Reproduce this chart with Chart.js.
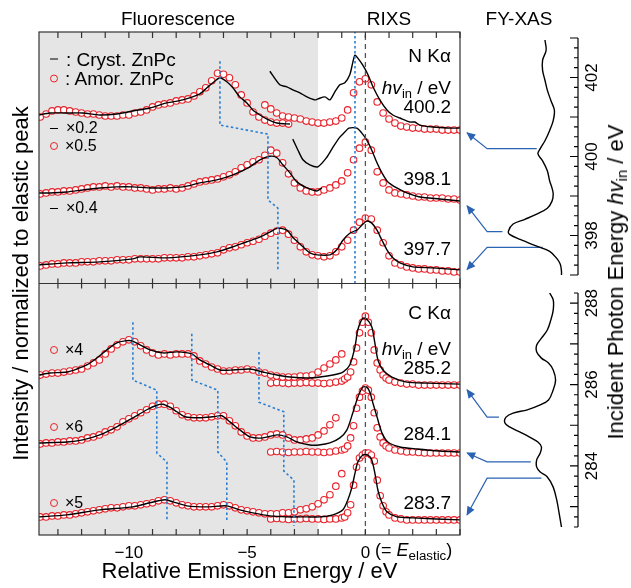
<!DOCTYPE html>
<html lang="en">
<head>
<meta charset="UTF-8">
<title>ZnPc RIXS / FY-XAS</title>
<script src="https://cdn.jsdelivr.net/npm/chart.js"></script>
<style>
  body { margin: 0; background: #fff; overflow: hidden; }
  #wrap { position: relative; width: 631px; height: 588px; font-family: "Liberation Sans", Arial, sans-serif; color: #000; }
  canvas { position: absolute; left: 0; top: 0; }
  .t { position: absolute; white-space: nowrap; line-height: 1; }
  .c { transform: translate(-50%, -50%); }
  .r { transform: translateY(-50%); text-align: right; }
  .lg { transform: translateY(-50%); display: flex; align-items: center; }
  .dash { display: inline-block; width: 8px; border-top: 1.6px solid #000; margin-right: 8px; }
  .circ { display: inline-block; width: 6px; height: 6px; border: 1.3px solid #e8232b; border-radius: 50%; margin-right: 7px; }
  .sub { font-size: .68em; position: relative; top: .3em; }
</style>
</head>
<body>
<div id="wrap">
  <canvas id="main" width="631" height="588"></canvas>
  <canvas id="fyN" width="631" height="588"></canvas>
  <canvas id="fyC" width="631" height="588"></canvas>

  <div class="t c" style="left:178px;top:18px;font-size:19px">Fluorescence</div>
  <div class="t c" style="left:389px;top:18px;font-size:19px">RIXS</div>
  <div class="t c" style="left:519px;top:18px;font-size:19px">FY-XAS</div>

  <div class="t lg" style="left:50px;top:59px;font-size:19px"><span class="dash"></span>: Cryst. ZnPc</div>
  <div class="t lg" style="left:50px;top:78px;font-size:19px"><span class="circ"></span>: Amor. ZnPc</div>
  <div class="t lg" style="left:50px;top:128px;font-size:16px"><span class="dash"></span>×0.2</div>
  <div class="t lg" style="left:50px;top:146px;font-size:16px"><span class="circ"></span>×0.5</div>
  <div class="t lg" style="left:50px;top:208px;font-size:16px"><span class="dash"></span>×0.4</div>
  <div class="t lg" style="left:50px;top:350px;font-size:16px"><span class="circ"></span>×4</div>
  <div class="t lg" style="left:50px;top:427px;font-size:16px"><span class="circ"></span>×6</div>
  <div class="t lg" style="left:50px;top:503px;font-size:16px"><span class="circ"></span>×5</div>

  <div class="t r" style="right:180px;top:55px;font-size:19px">N Kα</div>
  <div class="t r" style="right:180px;top:87px;font-size:19px"><i>hv</i><span class="sub">in</span> / eV</div>
  <div class="t r" style="right:180px;top:106px;font-size:19px">400.2</div>
  <div class="t r" style="right:180px;top:178px;font-size:19px">398.1</div>
  <div class="t r" style="right:180px;top:248px;font-size:19px">397.7</div>
  <div class="t r" style="right:180px;top:312px;font-size:19px">C Kα</div>
  <div class="t r" style="right:180px;top:348px;font-size:19px"><i>hv</i><span class="sub">in</span> / eV</div>
  <div class="t r" style="right:180px;top:367px;font-size:19px">285.2</div>
  <div class="t r" style="right:180px;top:433px;font-size:19px">284.1</div>
  <div class="t r" style="right:180px;top:502px;font-size:19px">283.7</div>

  <div class="t" style="left:375px;top:550px;font-size:18px;transform:translateY(-50%)">(= <i>E</i><span class="sub" style="font-size:.74em">elastic</span>)</div>
  <div class="t" style="left:616px;top:282px;font-size:22px;transform:translate(-50%,-50%) rotate(-90deg)">Incident Photon Energy <i>hv</i><span class="sub">in</span> / eV</div>
</div>

<script>
const FONT = '"Liberation Sans", Arial, sans-serif';

// relative emission energy axis (eV)
const xMin = -13.8, xMax = 4.0;
const fluorEnd = -2.0;          // end of the shaded fluorescence region
const xLabelTicks = [-10, -5, 0];

// common energy grid for the open circles (eV)
const nGrid = [
  -13.75, -13.5, -13.25, -13, -12.75, -12.5, -12.25, -12,
  -11.75, -11.5, -11.25, -11, -10.75, -10.5, -10.25, -10,
  -9.75, -9.5, -9.25, -9, -8.75, -8.5, -8.25, -8,
  -7.75, -7.5, -7.25, -7, -6.75, -6.5, -6.25, -6,
  -5.75, -5.5, -5.25, -5, -4.75, -4.5, -4.25, -4,
  -3.75, -3.5, -3.25, -3, -2.75, -2.5, -2.25, -2,
  -1.75, -1.5, -1.25, -1, -0.75, -0.5, -0.25, 0,
  0.25, 0.5, 0.75, 1, 1.25, 1.5, 1.75, 2,
  2.25, 2.5, 2.75, 3, 3.25, 3.5, 3.75, 4
];
const nFluorGrid = nGrid.slice(0, 43);   // -13.75 .. -3.25
const nRixsGrid = nGrid.slice(38);       // -4.25 .. 4
const cFluorGrid = nGrid.slice(0, 52);   // -13.75 .. -1.0
const cRixsGrid = [
  -4, -3.75, -3.5, -3.25, -3, -2.75, -2.5, -2.25, -2, -1.75, -1.5, -1.25,
  -1, -0.875, -0.75, -0.625, -0.5, -0.375, -0.25, -0.125, 0,
  0.125, 0.25, 0.375, 0.5, 0.625, 0.75, 0.875, 1,
  1.25, 1.5, 1.75, 2, 2.25, 2.5, 2.75, 3, 3.25, 3.5, 3.75, 4
];

// ---- N K-alpha, hv_in = 400.2 eV ----
const n400CrystFluorE = [-13.8, -13.34, -12.62, -11.95, -11.23, -10.51, -9.83, -9.11, -8.39, -7.72, -7.0, -6.7, -6.45, -6.15, -5.86, -5.6, -5.31, -5.01, -4.76, -4.46, -4.16, -3.74, -3.19];
const n400CrystFluor = [8.35, 8.39, 8.39, 8.39, 8.35, 8.37, 8.43, 8.49, 8.59, 8.65, 8.77, 8.89, 8.99, 9.09, 9.01, 8.89, 8.71, 8.59, 8.45, 8.35, 8.27, 8.19, 8.17];
const n400CrystRixsE = [-4.04, -3.62, -3.32, -3.07, -2.77, -2.47, -2.14, -2.01, -1.71, -1.5, -1.29, -1.08, -0.87, -0.66, -0.53, -0.44, -0.32, -0.11, 0.11, 0.32, 0.61, 0.91, 1.16, 1.46, 1.88, 2.09, 2.3, 2.85, 3.45, 4.0];
const n400CrystRixs = [9.22, 8.95, 8.91, 8.85, 8.79, 8.71, 8.65, 8.67, 8.71, 8.65, 8.81, 8.95, 8.99, 9.15, 9.4, 9.54, 9.48, 9.34, 9.15, 8.91, 8.65, 8.45, 8.35, 8.29, 8.21, 8.21, 8.15, 8.11, 8.09, 8.09];
const n400AmorFluor = [
  8.31, 8.37, 8.43, 8.45, 8.45, 8.43, 8.41, 8.39,
  8.37, 8.37, 8.35, 8.33, 8.33, 8.33, 8.35, 8.35,
  8.39, 8.41, 8.45, 8.51, 8.55, 8.57, 8.59, 8.63,
  8.65, 8.67, 8.73, 8.81, 8.89, 9.03, 9.18, 9.16,
  9.09, 8.95, 8.75, 8.59, 8.41, 8.31, 8.25, 8.21,
  8.19, 8.19, 8.17
];
const n400AmorRixs = [
  8.55, 8.47,
  8.39, 8.33, 8.31, 8.29, 8.27, 8.23, 8.21, 8.19,
  8.19, 8.21, 8.23, 8.29, 8.45, 8.79, 9.01, 9.07,
  8.95, 8.61, 8.39, 8.27, 8.19, 8.13, 8.11, 8.09,
  8.09, 8.07, 8.07, 8.07, 8.05, 8.05, 8.05, 8.05
];

// ---- N K-alpha, hv_in = 398.1 eV ----
const n398CrystFluorE = [-13.8, -13.34, -12.62, -11.95, -11.23, -10.51, -9.83, -9.11, -8.39, -7.72, -7.0, -6.28, -5.6, -4.88, -4.46, -4.04, -3.74, -3.49, -3.19, -2.9, -2.47, -2.05, -1.84];
const n398CrystFluor = [6.8, 6.8, 6.82, 6.86, 6.9, 6.92, 6.92, 6.9, 6.9, 6.92, 7.0, 7.06, 7.16, 7.32, 7.46, 7.53, 7.5, 7.36, 7.2, 7.02, 6.9, 6.84, 6.9];
const n398CrystRixsE = [-3.07, -2.85, -2.64, -2.35, -2.01, -1.63, -1.37, -1.08, -0.87, -0.7, -0.36, -0.15, 0.06, 0.27, 0.49, 0.7, 0.95, 1.33, 1.75, 2.3, 3.15, 4.0];
const n398CrystRixs = [7.87, 7.65, 7.46, 7.36, 7.32, 7.51, 7.71, 7.91, 8.01, 8.09, 8.09, 7.99, 7.85, 7.65, 7.4, 7.2, 7.02, 6.9, 6.8, 6.72, 6.68, 6.64];
const n398Amor = [
  6.78, 6.8, 6.82, 6.82, 6.84, 6.84, 6.86, 6.88,
  6.9, 6.92, 6.92, 6.94, 6.92, 6.94, 6.92, 6.92,
  6.9, 6.9, 6.88, 6.86, 6.88, 6.88, 6.9, 6.88,
  6.9, 6.94, 6.98, 7.02, 7.04, 7.06, 7.08, 7.12,
  7.16, 7.22, 7.3, 7.36, 7.42, 7.46, 7.55, 7.65,
  7.59, 7.4, 7.18, 7.0, 6.9, 6.84, 6.82, 6.82,
  6.86, 6.9, 6.96, 7.04, 7.2, 7.46, 7.69, 7.81,
  7.65, 7.22, 7.0, 6.86, 6.8, 6.78, 6.76, 6.74,
  6.72, 6.72, 6.7, 6.7, 6.7, 6.68, 6.68, 6.66
];

// ---- N K-alpha, hv_in = 397.7 eV ----
const n397CrystE = [-13.8, -12.62, -11.23, -9.83, -9.53, -8.39, -7.0, -6.28, -5.6, -5.01, -4.46, -4.04, -3.7, -3.32, -3.07, -2.64, -2.35, -2.05, -1.5, -1.21, -0.95, -0.66, -0.36, -0.15, 0.06, 0.27, 0.49, 0.7, 0.91, 1.16, 1.46, 2.01, 2.85, 4.0];
const n397Cryst = [5.37, 5.41, 5.43, 5.49, 5.53, 5.51, 5.57, 5.63, 5.73, 5.83, 5.92, 6.02, 6.1, 6.06, 5.92, 5.73, 5.61, 5.57, 5.57, 5.67, 5.86, 6.0, 6.06, 6.16, 6.24, 6.2, 6.06, 5.86, 5.67, 5.51, 5.41, 5.33, 5.31, 5.27];
const n397Amor = [
  5.35, 5.37, 5.39, 5.39, 5.41, 5.41, 5.41, 5.43,
  5.43, 5.43, 5.45, 5.45, 5.45, 5.47, 5.47, 5.47,
  5.49, 5.49, 5.49, 5.49, 5.49, 5.51, 5.51, 5.51,
  5.51, 5.53, 5.53, 5.55, 5.57, 5.59, 5.61, 5.67,
  5.71, 5.73, 5.77, 5.81, 5.84, 5.88, 5.94, 6.0,
  6.04, 6.06, 5.98, 5.86, 5.73, 5.63, 5.57, 5.55,
  5.53, 5.55, 5.63, 5.73, 5.86, 6.06, 6.22, 6.3,
  6.28, 6.06, 5.81, 5.55, 5.41, 5.37, 5.33, 5.31,
  5.29, 5.29, 5.27, 5.27, 5.25, 5.25, 5.23, 5.23
];

// ---- C K-alpha, hv_in = 285.2 eV ----
const c285CrystE = [-13.8, -13.34, -12.62, -12.2, -11.78, -11.35, -10.93, -10.51, -10.17, -9.87, -9.53, -9.11, -8.56, -7.97, -7.34, -7.0, -6.58, -6.15, -5.6, -4.88, -4.33, -3.74, -3.19, -2.47, -1.92, -1.37, -0.95, -0.66, -0.44, -0.32, -0.11, 0.06, 0.27, 0.4, 0.53, 0.74, 1.12, 1.75, 2.6, 4.0];
const c285Cryst = [3.18, 3.22, 3.24, 3.3, 3.38, 3.52, 3.68, 3.82, 3.86, 3.86, 3.78, 3.68, 3.62, 3.64, 3.6, 3.48, 3.38, 3.28, 3.28, 3.3, 3.24, 3.18, 3.14, 3.12, 3.14, 3.18, 3.24, 3.38, 3.74, 4.08, 4.31, 4.29, 4.14, 3.82, 3.48, 3.28, 3.14, 3.04, 3.02, 3.0];
const c285AmorFluor = [
  3.18, 3.2, 3.22, 3.22, 3.24, 3.26, 3.28, 3.3,
  3.36, 3.42, 3.48, 3.6, 3.7, 3.78, 3.84, 3.88,
  3.84, 3.76, 3.68, 3.62, 3.58, 3.6, 3.58, 3.6,
  3.6, 3.6, 3.56, 3.46, 3.4, 3.34, 3.3, 3.26,
  3.26, 3.28, 3.28, 3.3, 3.28, 3.24, 3.22, 3.18,
  3.16, 3.14, 3.14, 3.14, 3.16, 3.16, 3.18, 3.24,
  3.32, 3.4, 3.48, 3.6
];
const c285AmorRixs = [
  3.02, 3.03, 3.02, 3.01, 3.02, 3.02, 3.03, 3.02, 3.02, 3.01, 3.02, 3.04,
  3.06, 3.1, 3.14, 3.24, 3.44, 3.72, 4.02, 4.23, 4.35,
  4.23, 4.02, 3.68, 3.42, 3.28, 3.18, 3.12, 3.08,
  3.04, 3.02, 3.0, 3.0, 2.98, 2.98, 2.98, 2.98, 2.98, 2.98, 2.98, 2.98
];

// ---- C K-alpha, hv_in = 284.1 eV ----
const c284CrystE = [-13.8, -12.62, -11.95, -11.23, -10.51, -9.83, -9.24, -8.82, -8.56, -8.27, -7.97, -7.63, -7.0, -6.45, -6.07, -5.73, -5.31, -4.88, -4.33, -3.74, -3.32, -2.9, -2.35, -1.97, -1.5, -1.08, -0.78, -0.53, -0.32, -0.11, 0.06, 0.19, 0.32, 0.49, 0.7, 0.95, 1.46, 2.18, 3.15, 4.0];
const c284Cryst = [1.83, 1.85, 1.89, 1.99, 2.15, 2.33, 2.49, 2.58, 2.6, 2.54, 2.45, 2.35, 2.33, 2.35, 2.37, 2.25, 2.09, 1.95, 1.93, 1.99, 1.95, 1.85, 1.79, 1.79, 1.83, 1.93, 2.09, 2.43, 2.74, 2.94, 2.94, 2.84, 2.62, 2.35, 2.03, 1.85, 1.75, 1.71, 1.67, 1.65];
const c284AmorFluor = [
  1.81, 1.83, 1.83, 1.85, 1.85, 1.87, 1.87, 1.89,
  1.93, 1.95, 1.99, 2.05, 2.09, 2.15, 2.25, 2.31,
  2.37, 2.43, 2.49, 2.56, 2.6, 2.6, 2.56, 2.47,
  2.39, 2.35, 2.33, 2.33, 2.33, 2.35, 2.37, 2.37,
  2.27, 2.17, 2.05, 1.97, 1.93, 1.93, 1.95, 1.99,
  2.01, 1.99, 1.93, 1.89, 1.89, 1.91, 1.93, 1.99,
  2.07, 2.19, 2.33, null
];
const c284AmorRixs = [
  1.65, 1.66, 1.65, 1.64, 1.65, 1.65, 1.66, 1.65, 1.65, 1.64, 1.65, 1.67,
  1.69, 1.71, 1.77, 1.93, 2.17, 2.52, 2.74, 2.86, 2.92,
  2.88, 2.74, 2.43, 2.13, 1.95, 1.83, 1.77, 1.73,
  1.69, 1.67, 1.65, 1.65, 1.64, 1.63, 1.63, 1.63, 1.63, 1.63, 1.63, 1.63
];

// ---- C K-alpha, hv_in = 283.7 eV ----
const c283CrystE = [-13.8, -12.62, -11.23, -9.83, -9.11, -8.48, -8.14, -7.55, -6.7, -5.86, -5.31, -4.76, -4.04, -3.32, -2.47, -1.92, -1.37, -0.95, -0.74, -0.57, -0.44, -0.32, -0.11, 0.11, 0.27, 0.4, 0.53, 0.7, 0.91, 1.33, 2.01, 4.0];
const c283Cryst = [0.36, 0.4, 0.5, 0.56, 0.64, 0.7, 0.66, 0.58, 0.56, 0.58, 0.5, 0.44, 0.38, 0.36, 0.36, 0.36, 0.4, 0.5, 0.7, 0.95, 1.23, 1.45, 1.59, 1.59, 1.49, 1.23, 0.89, 0.64, 0.46, 0.36, 0.34, 0.3];
const c283AmorFluor = [
  0.36, 0.36, 0.38, 0.38, 0.4, 0.4, 0.42, 0.44,
  0.46, 0.48, 0.5, 0.52, 0.54, 0.54, 0.56, 0.58,
  0.58, 0.6, 0.62, 0.64, 0.68, 0.7, 0.68, 0.64,
  0.6, 0.58, 0.56, 0.56, 0.56, 0.56, 0.58, 0.6,
  0.58, 0.54, 0.5, 0.48, 0.46, 0.44, 0.42, 0.42,
  0.42, 0.44, 0.44, 0.46, 0.5, 0.52, 0.56, 0.62,
  0.7, 0.8, 0.97, 1.22
];
const c283AmorRixs = [
  0.32, 0.33, 0.32, 0.31, 0.32, 0.32, 0.33, 0.32, 0.32, 0.31, 0.32, 0.32,
  0.34, 0.36, 0.44, 0.6, 0.99, 1.35, 1.53, 1.59, 1.63,
  1.63, 1.59, 1.47, 1.09, 0.78, 0.58, 0.46, 0.4,
  0.34, 0.32, 0.3, 0.3, 0.3, 0.3, 0.3, 0.3, 0.3, 0.3, 0.3, 0.3
];

// blue dotted peak-tracking guides (energy, intensity)
const nGuideE = [-6.15, -6.15, -4.12, -4.12, -3.7, -3.7];
const nGuideI = [9.42, 8.15, 7.97, 6.66, 6.5, 5.27];
const cGuide1E = [-9.83, -9.83, -8.82, -8.82, -8.39, -8.39];
const cGuide1I = [4.23, 3.08, 2.88, 1.63, 1.45, 0.3];
const cGuide2E = [-7.34, -7.34, -6.24, -6.24, -5.86, -5.86];
const cGuide2I = [4.0, 3.08, 2.88, 1.65, 1.45, 0.3];
const cGuide3E = [-4.5, -4.5, -3.45, -3.45, -3.02, -3.02];
const cGuide3I = [3.64, 2.64, 2.45, 1.27, 1.09, 0.18];
const nRixsPeakE = -0.44;

// FY-XAS spectra (incident energy, intensity)
const fyNEnergy = [402.95, 402.69, 402.44, 402.18, 401.93, 401.68, 401.42, 401.17, 400.91, 400.66, 400.4, 400.2, 400.07, 399.89, 399.64, 399.38, 399.2, 399.05, 398.87, 398.69, 398.54, 398.41, 398.29, 398.11, 398.03, 397.9, 397.73, 397.6, 397.42, 397.27, 397.09, 397.0];
const fyNInt = [0.28, 0.27, 0.3, 0.3, 0.28, 0.26, 0.23, 0.2, 0.21, 0.24, 0.28, 0.32, 0.34, 0.3, 0.26, 0.24, 0.22, 0.21, 0.22, 0.26, 0.35, 0.45, 0.55, 0.59, 0.58, 0.49, 0.35, 0.24, 0.18, 0.15, 0.14, 0.14];
const fyCEnergy = [288.25, 288.08, 287.83, 287.59, 287.34, 287.14, 286.97, 286.8, 286.65, 286.53, 286.36, 286.11, 285.87, 285.62, 285.5, 285.38, 285.3, 285.2, 285.06, 284.96, 284.83, 284.71, 284.59, 284.47, 284.32, 284.15, 283.97, 283.85, 283.73, 283.48, 283.16, 282.84, 282.5];
const fyCInt = [0.24, 0.21, 0.21, 0.23, 0.26, 0.31, 0.35, 0.35, 0.31, 0.25, 0.21, 0.19, 0.21, 0.25, 0.32, 0.43, 0.55, 0.61, 0.62, 0.58, 0.49, 0.41, 0.34, 0.31, 0.32, 0.35, 0.35, 0.32, 0.26, 0.21, 0.18, 0.16, 0.14];
const fyNAxis = [397, 403], fyCAxis = [282.5, 288.25];
const fyNLabels = [398, 400, 402], fyCLabels = [284, 286, 288];

// excitation energies and the arrows pointing at the matching spectra
const nExcitation = [400.2, 398.1, 397.7];
const nArrowStart = [0.35, 0.64, 0.3];
const nArrowTip = [400.6, 398.75, 397.14];
const cExcitation = [285.2, 284.1, 283.7];
const cArrowStart = [0.67, 0.4, 0.31];
const cArrowTip = [285.87, 284.32, 282.8];
const arrowElbow = 0.77, arrowEnd = 0.94;

// ---------------------------------------------------------------
function xy(xs, ys) {
  return xs.map((x, i) => ({ x: x, y: ys[i] })).filter(p => p.y !== null && p.y !== undefined);
}
function cryst(xs, ys) {
  return { data: xy(xs, ys), showLine: true, borderColor: '#000', borderWidth: 1.4, pointRadius: 0, tension: 0.25, fill: false, order: 1 };
}
function amor(xs, ys) {
  return { data: xy(xs, ys), showLine: false, pointRadius: 3.3, pointBorderWidth: 1.1,
           pointBorderColor: '#e8232b', pointBackgroundColor: '#fff', order: 2 };
}
function guide(xs, ys) {
  return { data: xy(xs, ys), showLine: true, borderColor: '#2a7fd0', borderWidth: 1.6, borderDash: [2.5, 2.5],
           pointRadius: 0, tension: 0, fill: false, order: 0 };
}

const mainSets = [
  { data: [{ x: xMin, y: 10 }, { x: fluorEnd, y: 10 }], showLine: true, fill: 'origin',
    backgroundColor: '#e5e5e5', borderWidth: 0, pointRadius: 0, order: 10 },
  { data: [{ x: 0, y: 0 }, { x: 0, y: 10 }], showLine: true, borderColor: '#555', borderWidth: 1.3,
    borderDash: [5, 4], pointRadius: 0, order: 0 },
  guide([nRixsPeakE, nRixsPeakE], [5, 10]),
  guide(nGuideE, nGuideI),
  guide(cGuide1E, cGuide1I),
  guide(cGuide2E, cGuide2I),
  guide(cGuide3E, cGuide3I),

  cryst(n400CrystFluorE, n400CrystFluor),
  cryst(n400CrystRixsE, n400CrystRixs),
  cryst(n398CrystFluorE, n398CrystFluor),
  cryst(n398CrystRixsE, n398CrystRixs),
  cryst(n397CrystE, n397Cryst),
  cryst(c285CrystE, c285Cryst),
  cryst(c284CrystE, c284Cryst),
  cryst(c283CrystE, c283Cryst),

  amor(nFluorGrid, n400AmorFluor),
  amor(nRixsGrid, n400AmorRixs),
  amor(nGrid, n398Amor),
  amor(nGrid, n397Amor),
  amor(cFluorGrid, c285AmorFluor),
  amor(cRixsGrid, c285AmorRixs),
  amor(cFluorGrid, c284AmorFluor),
  amor(cRixsGrid, c284AmorRixs),
  amor(cFluorGrid, c283AmorFluor),
  amor(cRixsGrid, c283AmorRixs)
];

// box, panel divider and inward tick marks of the main plot
const framePlugin = {
  id: 'frame',
  afterDatasetsDraw(chart) {
    const { ctx, chartArea: a, scales: { x, y } } = chart;
    const yMid = y.getPixelForValue(5);
    ctx.save();
    ctx.strokeStyle = '#333';
    ctx.lineWidth = 1.2;
    ctx.strokeRect(a.left, a.top, a.right - a.left, a.bottom - a.top);
    ctx.beginPath();
    ctx.moveTo(a.left, yMid); ctx.lineTo(a.right, yMid);
    for (let e = Math.ceil(xMin); e <= Math.floor(xMax); e++) {
      const px = x.getPixelForValue(e);
      ctx.moveTo(px, a.top); ctx.lineTo(px, a.top + 6);
      ctx.moveTo(px, a.bottom); ctx.lineTo(px, a.bottom - 6);
      ctx.moveTo(px, yMid - 5); ctx.lineTo(px, yMid + 5);
    }
    ctx.stroke();
    ctx.restore();
  }
};

new Chart(document.getElementById('main'), {
  type: 'scatter',
  data: { datasets: mainSets },
  options: {
    responsive: false,
    animation: false,
    layout: { padding: { top: 32, right: 171, left: 0, bottom: 0 } },
    plugins: { legend: { display: false }, tooltip: { enabled: false } },
    scales: {
      x: {
        type: 'linear', min: xMin, max: xMax,
        grid: { display: false }, border: { display: false },
        ticks: {
          stepSize: 1, autoSkip: false, maxRotation: 0, padding: 0, color: '#000',
          font: { size: 17, family: FONT },
          callback: v => {
            const hit = xLabelTicks.find(t => Math.abs(t - v) < 1e-6);
            if (hit === undefined) return '';
            return hit < 0 ? '\u2212' + Math.abs(hit) : String(hit);
          }
        },
        title: { display: true, text: 'Relative Emission Energy / eV', color: '#000',
                 font: { size: 22, family: FONT }, padding: { top: 0, bottom: 3 } },
        afterFit: s => { s.height = 53; }
      },
      y: {
        min: 0, max: 10,
        grid: { display: false }, border: { display: false },
        ticks: { display: false },
        title: { display: true, text: 'Intensity / normalized to elastic peak', color: '#000',
                 font: { size: 22, family: FONT }, padding: { top: 9, bottom: 0 } },
        afterFit: s => { s.width = 39; }
      }
    }
  },
  plugins: [framePlugin]
});

// ---- FY-XAS panels ----
const fyAxisPlugin = {
  id: 'fyAxis',
  afterDatasetsDraw(chart, args, opts) {
    const { ctx, chartArea: a, scales: { y } } = chart;
    const xr = a.right;
    ctx.save();
    ctx.strokeStyle = '#000';
    ctx.lineWidth = 1.2;
    ctx.beginPath();
    ctx.moveTo(xr, a.top); ctx.lineTo(xr, a.bottom);
    for (let q = Math.ceil(y.min * 4); q <= Math.floor(y.max * 4); q++) {
      const py = y.getPixelForValue(q / 4);
      ctx.moveTo(xr, py); ctx.lineTo(xr - (q % 4 === 0 ? 8 : 4), py);
    }
    ctx.stroke();
    ctx.fillStyle = '#000';
    ctx.font = '17px ' + FONT;
    ctx.textAlign = 'center';
    ctx.textBaseline = 'middle';
    opts.labels.forEach(v => {
      ctx.save();
      ctx.translate(xr + 14, y.getPixelForValue(v));
      ctx.rotate(-Math.PI / 2);
      ctx.fillText(String(v), 0, 0);
      ctx.restore();
    });
    ctx.restore();
  }
};

const arrowHeadPlugin = {
  id: 'arrowHeads',
  afterDatasetsDraw(chart) {
    const ctx = chart.ctx;
    chart.data.datasets.forEach((ds, i) => {
      if (!ds.arrowHead) return;
      const pts = chart.getDatasetMeta(i).data;
      const p = pts[pts.length - 1], q = pts[pts.length - 2];
      const ang = Math.atan2(p.y - q.y, p.x - q.x);
      ctx.save();
      ctx.fillStyle = ds.borderColor;
      ctx.translate(p.x, p.y);
      ctx.rotate(ang);
      ctx.beginPath();
      ctx.moveTo(1, 0); ctx.lineTo(-8, -4); ctx.lineTo(-8, 4);
      ctx.closePath();
      ctx.fill();
      ctx.restore();
    });
  }
};

function fyChart(id, energy, inten, range, labels, exc, start, tip, padTop, padBottom) {
  const sets = [{ data: xy(inten, energy), showLine: true, borderColor: '#000', borderWidth: 1.4,
                  pointRadius: 0, tension: 0.35, fill: false }];
  exc.forEach((e, k) => {
    sets.push({ data: xy([start[k], arrowElbow, arrowEnd], [e, e, tip[k]]), showLine: true,
                borderColor: '#2a62b4', borderWidth: 1.2, pointRadius: 0, tension: 0, fill: false, arrowHead: true });
  });
  new Chart(document.getElementById(id), {
    type: 'scatter',
    data: { datasets: sets },
    options: {
      responsive: false,
      animation: false,
      layout: { padding: { left: 460, right: 53, top: padTop, bottom: padBottom } },
      plugins: { legend: { display: false }, tooltip: { enabled: false }, fyAxis: { labels: labels } },
      scales: {
        x: { display: false, min: 0, max: 1, reverse: true },
        y: { display: false, min: range[0], max: range[1] }
      }
    },
    plugins: [fyAxisPlugin, arrowHeadPlugin]
  });
}

fyChart('fyN', fyNEnergy, fyNInt, fyNAxis, fyNLabels, nExcitation, nArrowStart, nArrowTip, 38, 313);
fyChart('fyC', fyCEnergy, fyCInt, fyCAxis, fyCLabels, cExcitation, cArrowStart, cArrowTip, 293, 61);
</script>
</body>
</html>
